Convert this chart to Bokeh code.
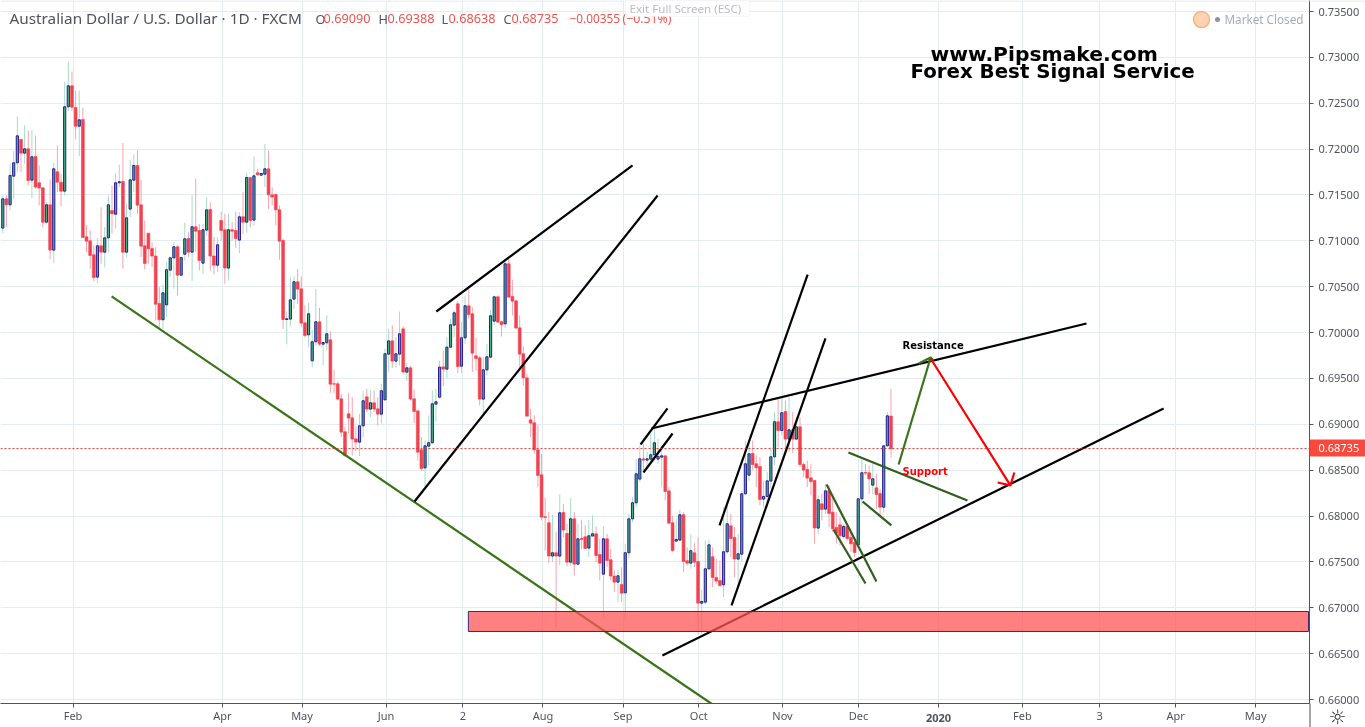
from bokeh.plotting import figure
from bokeh.layouts import column
from bokeh.models import FixedTicker, Label, Span, BoxAnnotation, Range1d
from bokeh.embed import file_html
from bokeh.resources import INLINE

# Daily AUD/USD candles, in units of 0.00001
open_pts = [
 71139,71458,71393,71705,71851,72105,71956,72003,71662,71920,
 71633,71578,71204,71393,70899,71753,71640,71542,72461,72690,
 72454,72250,72323,71044,71001,70848,70605,70946,70877,71033,
 71331,71291,71633,71647,70877,71346,71662,71822,71393,70946,
 71084,70917,70834,70318,70140,70303,70681,70815,70935,70626,
 70855,71026,70877,71153,71113,70757,71117,71342,70834,70735,
 71222,71121,70703,71121,71113,71008,71262,71204,71691,71226,
 71742,71716,71727,71785,71502,71506,71338,71004,70143,70147,
 70365,70554,70477,70107,69976,69693,69900,70118,69874,69889,
 69921,69442,69442,69278,68919,69115,69071,68842,68806,68984,
 69300,69166,69235,69169,69111,69267,69765,69910,69689,69765,
 70041,69569,69616,69278,69147,68722,68526,68762,68799,69220,
 69296,69627,69602,69841,70081,70314,69634,69943,70292,70205,
 69747,69725,69275,69594,69732,70125,70390,70118,70096,70750,
 70394,70346,70052,69769,69507,69049,69017,68722,68450,67992,
 67927,67564,67600,67564,68039,67811,67498,67970,67476,67756,
 67774,67651,67782,67807,67582,67367,67752,67524,67346,67280,
 67255,67164,67600,67970,68145,68403,68624,68610,68621,68668,
 68621,68642,68657,68275,67927,67727,67738,68014,67513,67487,
 67600,67505,67051,67062,67425,67556,67331,67298,67251,67611,
 67894,67767,67531,67585,68243,68446,68682,68570,68541,68185,
 68214,68381,68646,69028,68933,69140,68839,68940,68839,68973,
 68562,68508,68417,68388,67869,68134,68076,68275,68043,67876,
 67905,67778,67887,67767,67712,67687,68188,68475,68472,68337,
 68308,68246,68097,68766,69090]
high_pts = [
 71495,71495,71840,71978,72356,72112,72258,72203,72210,72149,
 71822,71586,71422,71669,71851,72040,71731,72730,72955,72846,
 72639,72639,72454,71175,71113,70950,71030,71364,71150,71495,
 71604,71738,71833,72069,71404,71883,71942,71985,71665,71222,
 71084,70986,70932,70496,70525,70768,70823,70986,70950,70823,
 71197,71095,71495,71680,71186,71186,71477,71422,71041,71041,
 71320,71295,71295,71204,71320,71313,71531,71742,71695,71920,
 71785,71735,72058,71985,71586,71513,71386,71022,70230,70604,
 70612,70695,70612,70296,70325,70030,70477,70270,69892,70187,
 70012,69594,69467,69333,68970,69344,69296,68977,69115,69362,
 69387,69369,69369,69296,69442,69823,70041,70078,69950,70230,
 70067,69671,69638,69380,69151,68861,68824,69097,69369,69387,
 69696,69805,69950,70150,70241,70339,70114,70397,70477,70277,
 69943,69751,69732,69878,70248,70405,70405,70132,70804,70804,
 70575,70357,70187,69849,69551,69169,69097,68999,68679,68199,
 68043,68014,67832,68236,68134,67916,68196,68043,67916,67960,
 67898,67960,68007,67887,67752,67887,67807,67643,67407,67414,
 67444,67698,68025,68206,68624,68770,68788,68697,68897,68951,
 68842,68715,68661,68315,68007,67970,68068,68043,67661,67800,
 67705,67770,67196,67734,67741,67661,67534,67516,68097,68105,
 68025,67880,67807,68279,68824,68824,68824,68661,68642,68388,
 68479,68751,69133,69296,69278,69260,69296,69133,69078,69078,
 68588,68606,68570,68388,68225,68243,68352,68334,68206,68043,
 67988,67916,67916,67843,67770,68188,68624,68570,68552,68570,
 68461,68297,68770,69133,69388]
low_pts = [
 71084,71150,71331,71458,71749,71749,71840,71604,71466,71567,
 71386,71150,71179,70797,70757,71531,71378,71495,72414,72414,
 72105,71923,71037,70877,70695,70557,70539,70750,70710,70877,
 71077,71131,71586,70695,70823,71259,71531,71295,70823,70688,
 70750,70714,70132,70041,70041,70169,70605,70477,70405,70623,
 70786,70823,70561,70877,70677,70641,71059,70677,70634,70659,
 71004,70532,70568,71004,70924,70866,71077,71088,71150,71160,
 71713,71716,71586,71349,71386,71168,70794,70041,69871,70067,
 70259,70314,70059,69943,69841,69623,69856,69856,69642,69805,
 69344,69344,69260,68861,68643,68904,68661,68708,68653,68861,
 69133,69079,69133,68988,69013,69260,69569,69616,69616,69642,
 69565,69471,69260,69013,68606,68490,68316,68552,68788,69031,
 69278,69413,69507,69834,69950,69558,69558,69878,70154,69569,
 69587,69206,69115,69533,69725,70078,70103,69958,70049,70379,
 70187,70041,69587,69424,69089,68861,68679,68316,67952,67625,
 67487,67498,66779,67462,67771,67451,67455,67353,67462,67643,
 67643,67553,67782,67498,67298,66899,67444,67298,67171,67062,
 67062,66873,67542,67934,68097,68370,68497,68515,68552,68606,
 68570,68315,68170,67916,67607,67727,67727,67389,67462,67425,
 67444,66717,66717,67037,67414,67226,67262,67226,67117,67589,
 67553,67335,67226,67505,68225,68388,68497,68315,68116,68097,
 68097,68297,68552,68751,68879,68733,68697,68686,68824,68533,
 68424,68315,68225,67698,67800,67952,68025,67880,67825,67698,
 67680,67752,67734,67607,67553,67661,68116,68443,68243,68243,
 68079,68007,68043,68751,68638]
close_pts = [
 71458,71393,71713,71851,72145,71956,72003,71658,71916,71586,
 71575,71204,71393,70899,71785,71640,71542,72461,72690,72457,
 72250,72319,71037,70997,70841,70601,70946,70877,71033,71393,
 71295,71633,71644,70877,71251,71665,71822,71389,70942,70754,
 70913,70834,70310,70140,70434,70685,70815,70935,70626,70819,
 71022,70877,71153,71106,70786,71121,71338,70834,70735,70957,
 71113,70703,71121,71106,71026,71262,71204,71691,71222,71709,
 71720,71735,71785,71502,71477,71338,70997,70143,70150,70357,
 70554,70474,70103,69969,70205,69900,70118,69874,69892,69987,
 69438,69438,69275,68915,68661,69068,68839,68806,68984,69257,
 69166,69235,69166,69111,69366,69769,69910,69689,69769,69987,
 69569,69616,69275,69140,68697,68519,68766,68799,69224,69246,
 69623,69602,69841,70085,70216,69631,69943,70292,70197,69776,
 69718,69275,69594,69736,70183,70390,70114,70088,70750,70386,
 70343,70049,69765,69507,69089,69013,68722,68443,67989,67985,
 67564,67600,67564,68036,67847,67498,67970,67476,67752,67745,
 67647,67785,67807,67571,67487,67752,67516,67346,67280,67349,
 67160,67600,67970,68145,68461,68624,68610,68624,68668,68799,
 68650,68657,68268,67923,67625,67745,68014,67505,67487,67622,
 67498,67051,67069,67425,67687,67331,67291,67244,67611,67916,
 67756,67531,67589,68243,68570,68679,68562,68526,68181,68214,
 68384,68646,69028,68933,69126,68839,68940,68839,68973,68562,
 68501,68414,68377,67869,68177,68072,68275,68028,67861,67814,
 67785,67887,67756,67698,67603,68188,68472,68468,68406,68406,
 68236,68097,68766,69093,68735]

price_ticks = [0.735,0.73,0.725,0.72,0.715,0.71,0.705,0.70,0.695,0.69,0.685,0.68,0.675,0.67,0.665,0.66]
time_tick_bars = [19.3,60.3,82.2,105.3,126.4,148.4,170.4,191.2,214.2,235.1,257.1,280.1,301.3,322.2,344.2]
time_tick_labels = ["Feb","Apr","May","Jun","2","Aug","Sep","Oct","Nov","Dec","","Feb","3","Apr","May"]
last_price = 0.68735

# Support zone
zone_left, zone_right, zone_bottom, zone_top = 127.9, 358.7, 0.66742, 0.66960

# Drawn trend lines: bar position and price of each end
black_x0 = [119.1,113.1,175.2,176.0,178.2,196.9,200.2,181.2]
black_p0 = [0.70230,0.68159,0.68780,0.68475,0.68955,0.67898,0.67026,0.66481]
black_x1 = [173.0,179.9,182.6,184.0,297.7,221.1,226.0,318.9]
black_p1 = [0.71822,0.71495,0.69173,0.68900,0.70099,0.70633,0.69936,0.69173]
dark_green_x0 = [232.3,226.3,228.2,236.2]
dark_green_p0 = [0.68693,0.68344,0.67854,0.68159]
dark_green_x1 = [265.0,240.0,237.0,244.1]
dark_green_p1 = [0.68170,0.67287,0.67265,0.67898]
up_arrow_x = [246.1,254.9,251.6,254.9,255.7]
up_arrow_p = [0.68562,0.69729,0.69663,0.69729,0.69696]
down_arrow_x = [254.9,276.8,273.3,276.8,277.9]
down_arrow_p = [0.69718,0.68334,0.68366,0.68334,0.68475]
channel_x = [29.9,195.0]
channel_p = [0.70394,0.65946]

W, H = 1365, 727
FW, FB = 56, 24
PIN = {"position": "fixed", "left": "0", "top": "0"}
p = figure(width=W, height=H, output_backend="svg", toolbar_location=None,
           x_range=Range1d(-0.63, 358.97), y_range=Range1d(0.65957, 0.73620),
           y_axis_location="right", min_border_left=0, min_border_top=0,
           min_border_right=FW, min_border_bottom=FB, outline_line_color=None,
           background_fill_color="white", border_fill_color="white", styles=PIN)

GRID = "#e3ecf3"; AX = "#50535e"
FONT = "Noto Sans"
p.xgrid.ticker = FixedTicker(ticks=time_tick_bars)
p.ygrid.ticker = FixedTicker(ticks=price_ticks)
p.xgrid.grid_line_color = GRID; p.ygrid.grid_line_color = GRID
p.xaxis.ticker = FixedTicker(ticks=time_tick_bars)
p.xaxis.major_label_overrides = dict(zip(time_tick_bars, time_tick_labels))
p.yaxis.ticker = FixedTicker(ticks=price_ticks)
p.yaxis.major_label_overrides = {t: f"{t:.5f}" for t in price_ticks}
for ax in (p.xaxis[0], p.yaxis[0]):
    ax.axis_line_color = AX; ax.major_tick_line_color = AX
    ax.major_tick_in = 0; ax.major_tick_out = 4; ax.minor_tick_line_color = None
    ax.major_label_text_color = AX; ax.major_label_text_font = FONT
    ax.major_label_text_font_size = "11px"; ax.major_label_standoff = 0
p.yaxis[0].major_label_standoff = 5

bars = list(range(len(open_pts)))
o = [v/1e5 for v in open_pts]; h = [v/1e5 for v in high_pts]
l = [v/1e5 for v in low_pts]; c = [v/1e5 for v in close_pts]
up = [i for i in bars if c[i] >= o[i]]
dn = [i for i in bars if c[i] < o[i]]
pick = lambda a, ix: [a[i] for i in ix]

p.segment(up, pick(h, up), up, pick(l, up), line_color="#a9dcc5", line_width=1)
p.segment(dn, pick(h, dn), dn, pick(l, dn), line_color="#f7a5af", line_width=1)
p.vbar(dn, 0.78, pick(o, dn), pick(c, dn), fill_color="#f2424f", line_color="#f2424f", line_width=0.6)
p.vbar(up, 0.6, pick(c, up), pick(o, up), fill_color="#3fb27f", line_color="#2b1c94", line_width=1)

p.line(channel_x, channel_p, line_color="#3a7418", line_width=2.2)
p.segment(black_x0, black_p0, black_x1, black_p1, line_color="black", line_width=2.2)
p.segment(dark_green_x0, dark_green_p0, dark_green_x1, dark_green_p1, line_color="#2f5f1c", line_width=2.2)
p.line(up_arrow_x, up_arrow_p, line_color="#3a7418", line_width=2.2)
p.line(down_arrow_x, down_arrow_p, line_color="#ff0000", line_width=2.2)

p.quad(left=[zone_left], right=[zone_right], bottom=[zone_bottom], top=[zone_top],
       fill_color="#ff5555", fill_alpha=0.75, line_color="#3b2a78", line_width=1)

p.add_layout(Span(location=last_price, dimension="width", line_color="#d32f2f",
                  line_dash="2 2", line_width=1))

# Transparent sheet over the whole page for header, badge, price tag and other chrome
ov = figure(frame_width=W, frame_height=H, output_backend="svg", toolbar_location=None,
            x_range=Range1d(0, W), y_range=Range1d(H, 0), x_axis_location=None, y_axis_location=None,
            min_border=0, min_border_left=0, min_border_right=0, min_border_top=0, min_border_bottom=0,
            outline_line_color=None, background_fill_color=None,
            border_fill_color=None, styles=PIN)
ov.grid.visible = False

def box(x0, x1, y0, y1, fill, line=None):
    ov.add_layout(BoxAnnotation(left=x0, right=x1, top=y0, bottom=y1, left_units="data",
                                right_units="data", top_units="data", bottom_units="data",
                                fill_color=fill, fill_alpha=1, line_color=line, level="overlay"))

def label(px, py, text, color=AX, size="12px", font=FONT, style="normal", align="left"):
    ov.add_layout(Label(x=px, y=py, text=text, text_color=color, text_font=font,
                        text_font_size=size, text_font_style=style, text_align=align,
                        text_baseline="middle", level="overlay"))

box(0, 1365, 0, 1, "#e0e3eb")
box(1309, 1310, 703, 727, AX)
box(1309, 1365, 439, 456, "#f9493d")

label(930, 53, "www.Pipsmake.com", "black", "20.3px", "DejaVu Sans", "bold")
label(910, 71, "Forex Best Signal Service", "black", "19.8px", "DejaVu Sans", "bold")
label(902, 345, "Resistance", "black", "10px", "DejaVu Sans", "bold")
label(902, 471, "Support", "#ff0000", "10px", "DejaVu Sans", "bold")

label(9, 17, "Australian Dollar / U.S. Dollar · 1D · FXCM", AX, "15.3px")
RED = "#ef5350"
for px, t, col, fs in [(315,"O",AX,"12.7px"),(323,"0.69090",RED,"12.7px"),(378,"H",AX,"12.7px"),
                       (387,"0.69388",RED,"12.7px"),(441,"L",AX,"12.7px"),(448,"0.68638",RED,"12.7px"),
                       (503,"C",AX,"12.7px"),(511,"0.68735",RED,"12.7px"),
                       (569,"−0.00355",RED,"11.8px"),(622,"(−0.51%)",RED,"12.3px")]:
    label(px, 18, t, col, fs)

# Exit-full-screen pill
box(625, 749, 0, 16, "white", "#e4e4e4")
label(629, 8, "Exit Full Screen (ESC)", "#b9bcc2", "11.6px")

# Market-closed badge
ov.circle([1201], [19], radius=8, radius_units="screen",
          fill_color="#ffd3b3", line_color="#ffb07a", line_width=1.5)
ov.circle([1217], [19], radius=2.5, radius_units="screen", fill_color="#8f939c", line_color=None)
label(1224, 18, "Market Closed", "#a3acc0", "11.7px")

# Last price tag on the axis
label(1318, 447.5, "0.68735", "white", "11px")

# Bold year tick label and gear icon
label(938, 717, "2020", AX, "11px", FONT, "bold", "center")
label(1337, 716, "☼", "#2b2b2b", "20px", "DejaVu Sans", "normal", "center")

open("out.html", "w").write(file_html(column(column(p), column(ov)), INLINE))
